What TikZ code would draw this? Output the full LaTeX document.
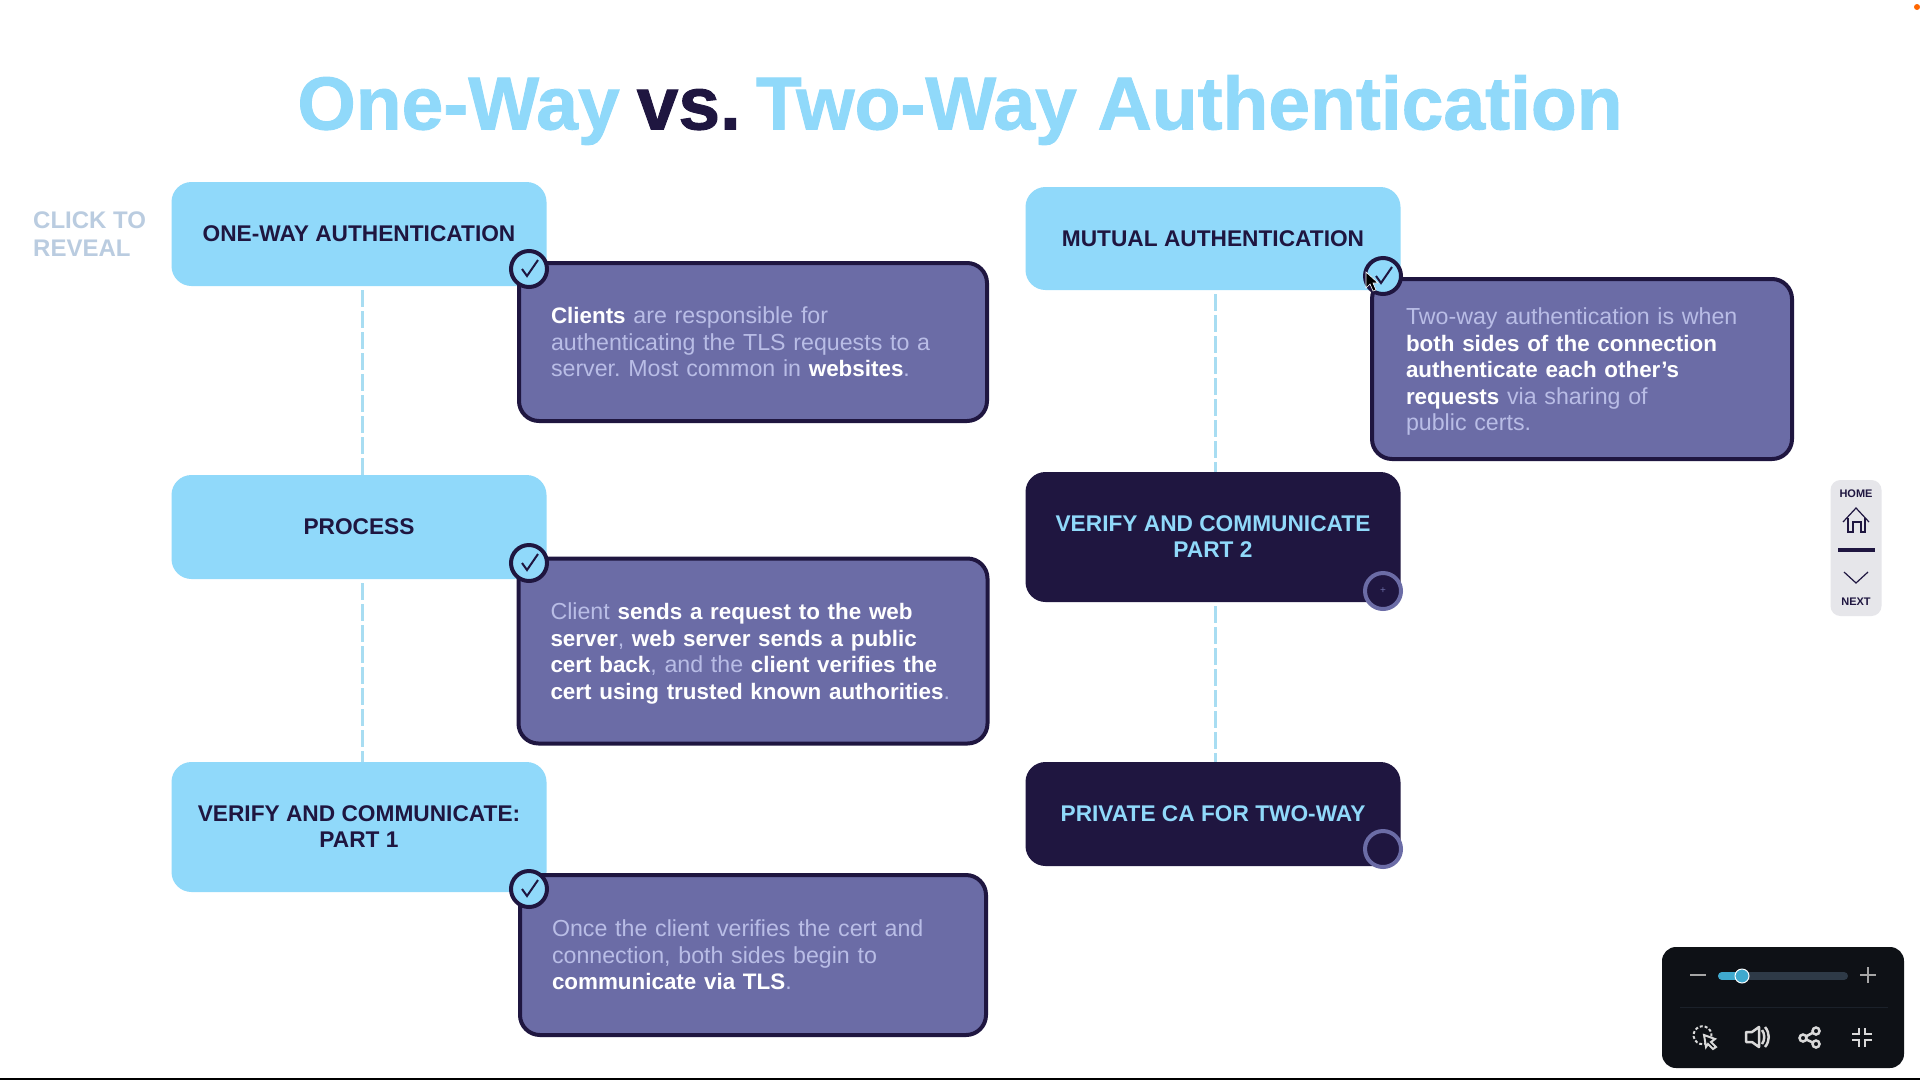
\documentclass[tikz,border=0pt]{standalone}
\usepackage{fontspec}
\setmainfont{Liberation Sans}
\usepackage{tikz}
\usetikzlibrary{calc}
\definecolor{skyblue}{HTML}{90D9FA}
\definecolor{darknavy}{HTML}{1F1640}
\definecolor{slatepurple}{HTML}{6B6CA6}
\definecolor{paletext}{HTML}{B9BDE6}
\definecolor{dashblue}{HTML}{A8DDF2}
\definecolor{hintgrey}{HTML}{BACCE0}
\definecolor{navgrey}{HTML}{E6E6EA}
\definecolor{panelblack}{HTML}{0E1116}
\definecolor{trackgrey}{HTML}{2E3A47}
\definecolor{knobblue}{HTML}{3FA9CE}
\newcommand{\keyword}[1]{{\fontsize{22.4}{26.5}\selectfont\bfseries\color{white}#1}}
\tikzset{
    stepbox/.style={rounded corners=20pt,inner sep=0pt,align=center,font=\fontsize{22.7}{26}\selectfont\bfseries},
    openbox/.style={stepbox,fill=skyblue,text=darknavy},
    lockedbox/.style={stepbox,fill=darknavy,text=skyblue},
    notebox/.style={rounded corners=20pt,draw=darknavy,line width=4pt,fill=slatepurple,text=paletext,inner sep=0pt,align=left,font=\fontsize{23.2}{26.5}\selectfont\frenchspacing},
    tick/.style={circle,draw=darknavy,line width=4pt,fill=skyblue,minimum size=36pt,inner sep=0pt},
    locked/.style={circle,draw=slatepurple,line width=4pt,fill=darknavy,minimum size=36pt,inner sep=0pt},
    tickline/.style={darknavy,line width=2pt},
    link/.style={dashblue,line width=3pt,dash pattern=on 17pt off 4pt,shorten <=4pt},
    navtext/.style={inner sep=0pt,text=darknavy,font=\fontsize{11}{13}\selectfont\bfseries},
    navline/.style={darknavy,line width=1.2pt},
    iconline/.style={white!85!black,line width=2.5pt}
}
\begin{document}
\begin{tikzpicture}[x=1pt,y=-1pt]
\useasboundingbox (0,0) rectangle (1920,1080);
\fill[white] (0,0) rectangle (1920,1080);
\fill[orange!80!red] (1917,7) circle (3);
\draw[black,line width=2pt] (0,1079) -- (1920,1079);
% heading
\node[inner sep=0pt,font=\fontsize{75}{80}\selectfont\bfseries\addfontfeatures{FakeBold=1.2}] (title) at (960,110) {\textcolor{skyblue}{One-Way}\hspace{17pt}\textcolor{darknavy}{vs.}\hspace{15pt}\textcolor{skyblue}{Two-Way Authentication}};
\node[inner sep=0pt,align=left,anchor=north west,text=hintgrey,font=\fontsize{24}{28}\selectfont\bfseries] (hint) at (33,212) {CLICK TO\\REVEAL};
% left column
\node[openbox,minimum width=375pt,minimum height=104pt] (oneway) at (359,234) {ONE-WAY AUTHENTICATION};
\node[openbox,minimum width=375pt,minimum height=104pt] (process) at (359,527) {PROCESS};
\node[openbox,minimum width=375pt,minimum height=130pt] (verifyone) at (359,827) {VERIFY AND COMMUNICATE:\\PART 1};
\draw[link] ([xshift=3pt]oneway.south) -- ([xshift=3pt]process.north);
\draw[link] ([xshift=3pt]process.south) -- ([xshift=3pt]verifyone.north);
\node[notebox,minimum width=468pt,minimum height=158pt,text width=404pt] (noteone) at (753,342) {\keyword{Clients} are responsible for\\authenticating the TLS requests to a\\server. Most common in \keyword{websites}.};
\node[notebox,minimum width=469pt,minimum height=185pt,text width=405pt] (notetwo) at (753,651) {\rule{0pt}{22pt}Client \keyword{sends a request to the web}\\\keyword{server}, \keyword{web server sends a public}\\\keyword{cert back}, and the \keyword{client verifies the}\\\keyword{cert using trusted known authorities}.};
\node[notebox,minimum width=466pt,minimum height=160pt,text width=402pt] (notethree) at (753,955) {Once the client verifies the cert and\\connection, both sides begin to\\\keyword{communicate via TLS}.};
% right column
\node[openbox,minimum width=375pt,minimum height=103pt] (mutual) at (1213,238.5) {MUTUAL AUTHENTICATION};
\node[lockedbox,minimum width=375pt,minimum height=130pt] (verifytwo) at (1213,537) {VERIFY AND COMMUNICATE\\PART 2};
\node[lockedbox,minimum width=375pt,minimum height=104pt] (privateca) at (1213,814) {PRIVATE CA FOR TWO-WAY};
\draw[link] ([xshift=2pt]mutual.south) -- ([xshift=2pt]verifytwo.north);
\draw[link] ([xshift=2pt]verifytwo.south) -- ([xshift=2pt]privateca.north);
\node[notebox,minimum width=420pt,minimum height=180pt,text width=352pt] (notefour) at (1582,369) {\rule{0pt}{22pt}Two-way authentication is when\\\keyword{both sides of the connection}\\\keyword{authenticate each other’s}\\\keyword{requests} via sharing of\\public certs.};
% status circles
\node[tick] (tickone) at (529,269) {};
\node[tick] (ticktwo) at (529,563) {};
\node[tick] (tickthree) at (529,889) {};
\node[tick] (tickfour) at (1383,276) {};
\foreach \t in {tickone,ticktwo,tickthree,tickfour}
    \draw[tickline] ([shift={(-7,0)}]\t.center) -- ([shift={(-2,7)}]\t.center) -- ([shift={(9,-9)}]\t.center);
\node[locked,text=slatepurple,font=\fontsize{10}{10}\selectfont] (lockone) at (1383,591) {+};
\node[locked] (locktwo) at (1383,849) {};
% pointer
\draw[fill=black,draw=white,line width=0.6pt] (1366,272) -- (1366,288) -- (1370,284) -- (1373,291) -- (1376,290) -- (1373,283) -- (1378,283) -- cycle;
% side navigation
\node[fill=navgrey,rounded corners=10pt,minimum width=51pt,minimum height=136pt,inner sep=0pt] (navpanel) at (1856,548) {};
\node[navtext] (navhome) at (1856,494) {HOME};
\node[navtext] (navnext) at (1856,602) {NEXT};
\draw[navline] (1843,522) -- (1856,508) -- (1869,522);
\draw[navline] (1848,518) -- (1848,532) -- (1853,532) -- (1853,522) -- (1861,522) -- (1861,532) -- (1865,532) -- (1865,518);
\draw[darknavy,line width=4pt] (1838,550) -- (1875,550);
\draw[navline] (1844,572) -- (1856,583) -- (1868,572);
% player controls
\node[fill=panelblack,rounded corners=14pt,minimum width=242pt,minimum height=121pt,inner sep=0pt] (player) at (1783,1007.5) {};
\draw[iconline,gray!70] (1690,975) -- (1706,975);
\draw[iconline,gray!70] (1860,975) -- (1876,975) (1868,967) -- (1868,983);
\draw[trackgrey,line width=8pt,line cap=round] (1722,976) -- (1844,976);
\draw[knobblue,line width=8pt,line cap=round] (1722,976) -- (1742,976);
\node[circle,fill=knobblue,draw=white,line width=1pt,minimum size=14pt,inner sep=0pt] (knob) at (1742,976) {};
\draw[trackgrey!40!panelblack,line width=0.6pt] (1680,1007) -- (1888,1007);
% click icon
\draw[iconline,line width=2pt,dash pattern=on 3pt off 2pt] (1707,1043) arc (60:400:9);
\draw[iconline,line width=2pt,fill=panelblack] (1704,1035) -- (1715,1039) -- (1711,1042) -- (1716,1047) -- (1713,1049) -- (1708,1044) -- (1706,1047) -- cycle;
% sound icon
\draw[iconline,line join=round] (1746,1032) -- (1752,1032) -- (1759,1027) -- (1759,1047) -- (1752,1042) -- (1746,1042) -- cycle;
\draw[iconline] (1762,1030) .. controls (1765,1034) and (1765,1040) .. (1762,1044);
\draw[iconline] (1765,1027) .. controls (1770,1033) and (1770,1041) .. (1765,1047);
% share icon
\draw[iconline] (1803,1038) -- (1816,1031) (1803,1038) -- (1816,1044);
\draw[iconline,fill=panelblack] (1803,1038) circle (3.5) (1816,1031) circle (3.5) (1816,1044) circle (3.5);
% collapse icon
\draw[iconline] (1852,1034) -- (1859,1034) -- (1859,1028) (1872,1034) -- (1865,1034) -- (1865,1028);
\draw[iconline] (1852,1040) -- (1859,1040) -- (1859,1047) (1872,1040) -- (1865,1040) -- (1865,1047);
\end{tikzpicture}
\end{document}
